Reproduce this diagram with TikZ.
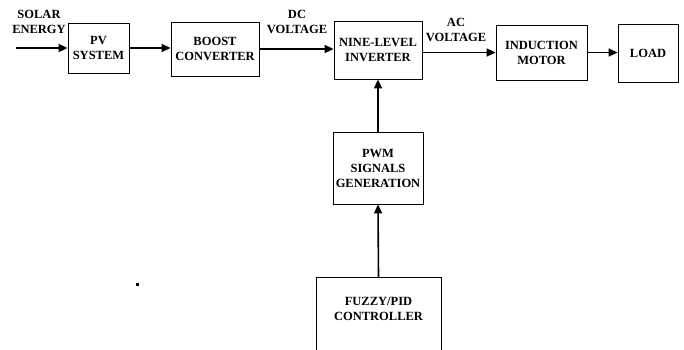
\documentclass[tikz,border=0pt]{standalone}
\usepackage{fontspec}
\setmainfont{Liberation Serif}
\usetikzlibrary{arrows.meta}
\begin{document}
\begin{tikzpicture}[x=1pt,y=-1pt,
  blk/.style={draw, line width=0.8pt, inner sep=0pt, align=center, font=\bfseries\fontsize{12.5}{15}\selectfont},
  lbl/.style={inner sep=0pt, align=center, font=\bfseries\fontsize{12.5}{15}\selectfont},
  arr/.style={line width=1.6pt, -{Triangle[length=9pt,width=8pt]}}]
\useasboundingbox (0,0) rectangle (684,349);
\clip (0,0) rectangle (684,349);
\node[blk, minimum width=61pt, minimum height=50pt] (pv) at (98.5,48) {PV\\SYSTEM};
\node[blk, minimum width=88pt, minimum height=54pt] (boost) at (215,49) {BOOST\\CONVERTER};
\node[blk, minimum width=88pt, minimum height=58pt] (nine) at (378,50) {NINE-LEVEL\\INVERTER};
\node[blk, minimum width=91pt, minimum height=55pt] (ind) at (541.5,52.5) {INDUCTION\\MOTOR};
\node[blk, minimum width=60pt, minimum height=58pt] (load) at (648,53) {LOAD};
\node[blk, minimum width=90pt, minimum height=72pt] (pwm) at (378,168) {PWM\\SIGNALS\\GENERATION};
\node[blk, minimum width=125pt, minimum height=90pt, anchor=north] (fuzzy) at (378.5,277) {};
\node[lbl] (fuzzytxt) at (378.5,309) {FUZZY/PID\\CONTROLLER};
\node[lbl] (solar) at (39,21.5) {SOLAR\\ENERGY};
\node[lbl] (dc) at (297,22) {DC\\VOLTAGE};
\node[lbl] (ac) at (456,30) {AC\\VOLTAGE};
\coordinate (src) at (16,48);
\draw[arr] (src) -- (pv.west);
\draw[arr] (pv.east) -- (pv.east -| boost.west);
\draw[arr] (boost.east) -- (boost.east -| nine.west);
\draw[arr] (nine.east |- ind.west) -- (ind.west);
\draw[arr] (ind.east) -- (ind.east -| load.west);
\draw[arr] (pwm.north) -- (nine.south);
\draw[arr] (fuzzy.north) -- (pwm.south);
\fill (136,283) rectangle (138.5,285.5);
\end{tikzpicture}
\end{document}
